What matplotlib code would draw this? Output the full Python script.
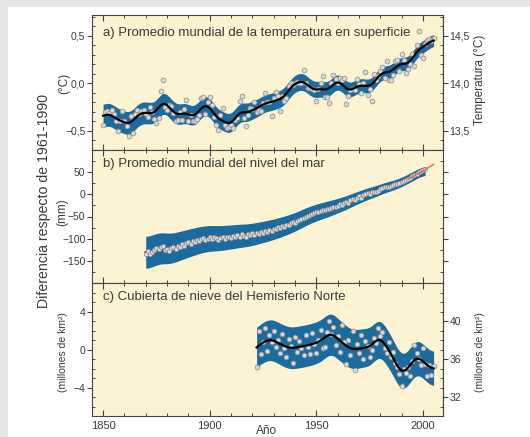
import numpy as np
import matplotlib
matplotlib.use('Agg')
import matplotlib.pyplot as plt
from matplotlib.patches import Rectangle
from matplotlib.ticker import MultipleLocator, FixedLocator, FuncFormatter

plt.rcParams['font.family'] = ['Liberation Sans', 'DejaVu Sans']

# a) temperatura media mundial, anomalías anuales (°C, resp. 1961-1990)
temp_years = np.arange(1850, 2006)
temp_anom = [
    -0.44, -0.30, -0.29, -0.31, -0.28, -0.32, -0.39, -0.50, -0.39, -0.29,
    -0.40, -0.45, -0.55, -0.34, -0.52, -0.32, -0.28, -0.32, -0.29, -0.28,
    -0.32, -0.35, -0.25, -0.30, -0.37, -0.42, -0.36, -0.08, 0.04, -0.25,
    -0.28, -0.23, -0.24, -0.31, -0.39, -0.38, -0.30, -0.38, -0.27, -0.17,
    -0.39, -0.33, -0.40, -0.39, -0.37, -0.33, -0.15, -0.14, -0.32, -0.20,
    -0.14, -0.23, -0.35, -0.44, -0.49, -0.33, -0.26, -0.44, -0.47, -0.46,
    -0.44, -0.47, -0.38, -0.36, -0.18, -0.13, -0.36, -0.45, -0.33, -0.26,
    -0.27, -0.20, -0.30, -0.28, -0.29, -0.21, -0.10, -0.19, -0.20, -0.34,
    -0.15, -0.09, -0.13, -0.29, -0.13, -0.18, -0.15, -0.03, 0.00, -0.02,
    0.01, 0.02, 0.01, 0.00, 0.14, 0.01, -0.05, -0.05, -0.06, -0.07,
    -0.18, -0.06, 0.01, 0.08, -0.14, -0.14, -0.21, 0.01, 0.09, 0.05,
    0.00, 0.06, 0.04, 0.06, -0.22, -0.13, -0.07, -0.06, -0.07, 0.05,
    -0.01, -0.10, 0.00, 0.12, -0.12, -0.06, -0.18, 0.10, 0.04, 0.08,
    0.13, 0.17, 0.06, 0.24, 0.04, 0.04, 0.09, 0.24, 0.25, 0.13,
    0.31, 0.25, 0.11, 0.15, 0.20, 0.31, 0.18, 0.40, 0.55, 0.30,
    0.27, 0.41, 0.46, 0.47, 0.45, 0.48,
]
temp_err_decade = [0.12, 0.12, 0.11, 0.11, 0.10, 0.10, 0.10, 0.09,
                   0.09, 0.09, 0.08, 0.08, 0.07, 0.07, 0.07, 0.06]

# b) nivel medio del mar (mm, resp. 1961-1990)
sea_years = np.arange(1870, 2002)
sea_level = [
    -133, -128, -135, -130, -125, -120, -122, -118, -115, -125,
    -122, -128, -120, -118, -122, -115, -118, -112, -115, -110,
    -108, -112, -105, -108, -102, -105, -100, -98, -103, -100,
    -96, -100, -97, -99, -102, -98, -95, -100, -97, -95,
    -98, -94, -96, -92, -95, -90, -93, -96, -90, -92,
    -88, -92, -86, -89, -84, -86, -82, -84, -80, -82,
    -77, -79, -74, -76, -71, -73, -68, -70, -65, -62,
    -64, -60, -58, -55, -53, -50, -48, -47, -44, -42,
    -40, -41, -38, -35, -36, -33, -34, -30, -28, -29,
    -26, -22, -24, -20, -18, -20, -14, -10, -12, -8,
    -5, -8, -2, 0, 3, 1, 4, 6, 5, 8,
    12, 14, 16, 15, 17, 18, 20, 22, 23, 25,
    27, 30, 32, 34, 37, 40, 42, 45, 49, 51,
    54, 57,
]
sea_err_decade = [36, 33, 30, 28, 26, 24, 22, 20, 18, 15, 13, 11, 10, 10]

# altimetría por satélite
sat_years = np.arange(1993, 2006)
sat_level = [34, 36, 39, 41, 44, 47, 50, 52, 55, 58, 61, 64, 67]

# c) cubierta de nieve del Hemisferio Norte (millones de km², resp. 1961-1990)
snow_years = np.arange(1922, 2006)
snow_anom = [
    -1.8, 2.0, -0.5, 0.8, 2.3, -0.2, 1.5, 0.8,
    2.0, 0.3, 1.0, -0.4, 1.6, 0.2, -0.8, 1.1, 0.4, -1.4,
    1.3, -0.3, 0.9, 0.2, -0.6, 1.5, 0.3, -0.5, 1.7, 0.6,
    -0.4, 1.0, 2.1, 0.2, 0.3, 1.8, 3.0, 1.6, 2.4, 0.5,
    1.4, -0.3, 2.6, 0.8, -1.5, 1.0, -0.6, 1.9, -2.2, 0.6,
    -0.4, 1.5, -1.0, 0.9, 0.4, -0.8, 0.0, 1.2, 0.7, 2.3,
    1.4, 1.8, 0.2, -0.4, 0.8, -0.8, -0.3, -1.4, -1.8, -2.6,
    -3.8, -2.0, -2.5, -1.8, -2.8, -1.2, 0.5, -0.4, -1.0, -1.6,
    0.2, -1.5, -2.8, -1.6, -2.7, -1.7,
]
snow_err_decade = [2.1, 2.2, 2.2, 2.2, 2.1, 2.0, 1.9, 1.8, 1.8]

band_color = '#1c6b9e'
panel_bg = '#fcf3d3'
text_color = '#3a3a3a'


def smooth(y, sigma):
    # filtro gaussiano normalizado (bordes incluidos)
    y = np.asarray(y, float)
    i = np.arange(len(y))
    w = np.exp(-0.5 * ((i[:, None] - i[None, :]) / sigma) ** 2)
    return (w @ y) / w.sum(axis=1)


def decade_err(years, dec_vals):
    idx = (years // 10 * 10 - years[0] // 10 * 10) // 10
    return smooth(np.asarray(dec_vals, float)[idx], 5)


def comma(v, pos):
    s = f'{v:.1f}'.replace('.', ',')
    return s.replace('-', '\u2212')


def minus(v, pos):
    return f'{v:g}'.replace('-', '\u2212')


fig = plt.figure(figsize=(5.3, 4.37), dpi=100, facecolor='#e6e6e6')
fig.patches.append(Rectangle((8 / 530, 0), 1, 430 / 437, transform=fig.transFigure,
                             facecolor='white', edgecolor='none', zorder=-10))

left, width = 92 / 530, 351 / 530
ax_a = fig.add_axes([left, 287 / 437, width, 135 / 437])
ax_b = fig.add_axes([left, 154 / 437, width, 133 / 437])
ax_c = fig.add_axes([left, 21 / 437, width, 133 / 437])


def style_y(axis_owner):
    axis_owner.tick_params(axis='y', which='major', direction='out', length=3.5,
                           width=0.8, colors='#444444', labelcolor=text_color,
                           labelsize=7.5, pad=1.2)
    axis_owner.tick_params(axis='y', which='minor', direction='in', length=2.5,
                           width=0.7, colors='#444444')


for ax in (ax_a, ax_b, ax_c):
    ax.set_facecolor(panel_bg)
    ax.set_xlim(1844.8, 2009.4)
    ax.xaxis.set_major_locator(MultipleLocator(50))
    ax.xaxis.set_minor_locator(MultipleLocator(10))
    ax.tick_params(axis='x', which='both', direction='in', top=True, bottom=True,
                   colors='#444444', labelcolor=text_color, labelsize=8)
    ax.tick_params(axis='x', which='major', length=4.5, width=0.8)
    ax.tick_params(axis='x', which='minor', length=2.5, width=0.7)
    style_y(ax)
    for sp in ax.spines.values():
        sp.set_color('#444444')
        sp.set_linewidth(0.8)
ax_a.tick_params(axis='x', labelbottom=False)
ax_b.tick_params(axis='x', labelbottom=False)

# a) temperatura
t_s = smooth(temp_anom, 2.5)
t_e = decade_err(temp_years, temp_err_decade)
ax_a.fill_between(temp_years, t_s - t_e, t_s + t_e, color=band_color, lw=0, zorder=1)
ax_a.scatter(temp_years, temp_anom, s=12, facecolor='#d8d8d8', edgecolor='#8a8a8a',
             lw=0.5, zorder=3)
ax_a.plot(temp_years, t_s, color='black', lw=1.6, zorder=4)
ax_a.set_ylim(-0.70, 0.72)
ax_a.yaxis.set_major_locator(FixedLocator([-0.5, 0.0, 0.5]))
ax_a.yaxis.set_minor_locator(MultipleLocator(0.1))
ax_a.yaxis.set_major_formatter(FuncFormatter(comma))
sec_a = ax_a.secondary_yaxis('right', functions=(lambda x: x + 14.0, lambda x: x - 14.0))
sec_a.yaxis.set_major_locator(FixedLocator([13.5, 14.0, 14.5]))
sec_a.yaxis.set_minor_locator(MultipleLocator(0.1))
sec_a.yaxis.set_major_formatter(FuncFormatter(comma))
ax_a.text(0.031, 0.87, 'a) Promedio mundial de la temperatura en superficie',
          transform=ax_a.transAxes, fontsize=9.5, color=text_color, va='center')

# b) nivel del mar
s_s = smooth(sea_level, 2.5)
s_e = decade_err(sea_years, sea_err_decade)
ax_b.fill_between(sea_years, s_s - s_e, s_s + s_e, color=band_color, lw=0, zorder=1)
ax_b.plot(sea_years, s_s, color='black', lw=1.6, zorder=2)
ax_b.scatter(sea_years, sea_level, s=10, facecolor='#d8d8d8', edgecolor='#8a8a8a',
             lw=0.5, zorder=3)
ax_b.plot(sat_years, sat_level, color='#e8634e', lw=1.0, zorder=4)
ax_b.set_ylim(-199, 99)
ax_b.yaxis.set_major_locator(FixedLocator([-150, -100, -50, 0, 50]))
ax_b.yaxis.set_minor_locator(MultipleLocator(25))
ax_b.yaxis.set_major_formatter(FuncFormatter(minus))
ax_b.tick_params(axis='y', which='both', right=True)
ax_b.text(0.031, 0.895, 'b) Promedio mundial del nivel del mar',
          transform=ax_b.transAxes, fontsize=9.5, color=text_color, va='center')

# c) nieve
n_s = smooth(snow_anom, 2.5)
n_e = decade_err(snow_years, snow_err_decade)
ax_c.fill_between(snow_years, n_s - n_e, n_s + n_e, color=band_color, lw=0, zorder=1)
ax_c.scatter(snow_years, snow_anom, s=12, facecolor='#d8d8d8', edgecolor='#8a8a8a',
             lw=0.5, zorder=3)
ax_c.plot(snow_years, n_s, color='black', lw=1.6, zorder=4)
ax_c.set_ylim(-7, 7)
ax_c.yaxis.set_major_locator(FixedLocator([-4, 0, 4]))
ax_c.yaxis.set_minor_locator(MultipleLocator(1))
ax_c.yaxis.set_major_formatter(FuncFormatter(minus))
sec_c = ax_c.secondary_yaxis('right', functions=(lambda x: x + 37.0, lambda x: x - 37.0))
sec_c.yaxis.set_major_locator(FixedLocator([32, 36, 40]))
sec_c.yaxis.set_minor_locator(MultipleLocator(1))
ax_c.text(0.031, 0.895, 'c) Cubierta de nieve del Hemisferio Norte',
          transform=ax_c.transAxes, fontsize=9.5, color=text_color, va='center')

for sec in (sec_a, sec_c):
    style_y(sec)
    sec.spines['right'].set_color('#444444')
    sec.spines['right'].set_linewidth(0.8)

# etiquetas
fig.text(64 / 530, 1 - 83 / 437, '(°C)', rotation=90, ha='center', va='center',
         fontsize=8.5, color=text_color)
fig.text(62 / 530, 1 - 212 / 437, '(mm)', rotation=90, ha='center', va='center',
         fontsize=8.5, color=text_color)
fig.text(63 / 530, 1 - 352 / 437, '(millones de km²)', rotation=90, ha='center',
         va='center', fontsize=7.5, color=text_color)
fig.text(480 / 530, 1 - 80 / 437, 'Temperatura (°C)', rotation=90, ha='center',
         va='center', fontsize=8.5, color=text_color)
fig.text(480 / 530, 1 - 352 / 437, '(millones de km²)', rotation=90, ha='center',
         va='center', fontsize=7.5, color=text_color)
fig.text(44 / 530, 1 - 201 / 437, 'Diferencia respecto de 1961-1990', rotation=90,
         ha='center', va='center', fontsize=10.2, color=text_color)
fig.text(267 / 530, 1 - 431 / 437, 'Año', ha='center', va='center',
         fontsize=8.5, color=text_color)

fig.savefig('out.png', dpi=100, facecolor=fig.get_facecolor())
